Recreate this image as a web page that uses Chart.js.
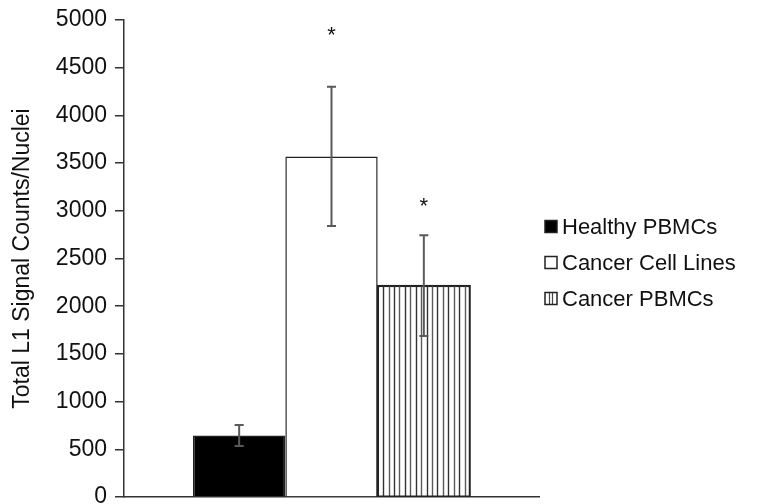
<!DOCTYPE html>
<html><head><meta charset="utf-8">
<script src="https://cdn.jsdelivr.net/npm/chart.js@4/dist/chart.umd.min.js"></script>
<style>html,body{margin:0;padding:0;background:#fff}#wrap{width:758px;height:504px;position:relative}</style>
</head><body><div id="wrap"><canvas id="c" width="758" height="504"></canvas></div>
<script>
const categories = [''];
const seriesNames = ['Healthy PBMCs', 'Cancer Cell Lines', 'Cancer PBMCs'];
const meanValues = [645, 3570, 2215];
const errorValues = [110, 730, 528];
const starValues = [null, 4870, 3080];
const yTickLabels = ['0','500','1000','1500','2000','2500','3000','3500','4000','4500','5000'];
const yTitle = 'Total L1 Signal Counts/Nuclei';

const FONT = "'Liberation Sans', Arial, sans-serif";
const fills = ['#000000', '#ffffff', '#ffffff'];
const striped = [false, false, true];

const overlay = {
  id: 'overlay',
  afterDatasetsDraw(chart) {
    const ctx = chart.ctx;
    const y = chart.scales.y;
    chart.data.datasets.forEach((ds, i) => {
      const bar = chart.getDatasetMeta(i).data[0];
      const left = bar.x - bar.width / 2, right = bar.x + bar.width / 2;
      ctx.save();
      if (striped[i]) {
        const n = 17, step = (right - left) / n;
        for (let k = 1; k < n; k++) {
          const sx = Math.round(left + k * step) + 0.5;
          ctx.strokeStyle = k % 2 ? '#333' : '#5a5a5a';
          ctx.lineWidth = 1.4;
          ctx.beginPath(); ctx.moveTo(sx, bar.y); ctx.lineTo(sx, bar.base); ctx.stroke();
        }
        ctx.strokeStyle = '#222'; ctx.lineWidth = 1.5;
        ctx.strokeRect(left, bar.y, right - left, bar.base - bar.y);
      }
      const v = ds.data[0], e = errorValues[i];
      const yt = y.getPixelForValue(v + e), yb = y.getPixelForValue(v - e);
      ctx.strokeStyle = '#5a5a5a'; ctx.lineWidth = 2;
      ctx.beginPath();
      ctx.moveTo(bar.x, yt); ctx.lineTo(bar.x, yb);
      ctx.moveTo(bar.x - 4.5, yt); ctx.lineTo(bar.x + 4.5, yt);
      ctx.moveTo(bar.x - 4.5, yb); ctx.lineTo(bar.x + 4.5, yb);
      ctx.stroke();
      if (starValues[i] != null) {
        ctx.fillStyle = '#111';
        ctx.font = '22px ' + FONT;
        ctx.textAlign = 'center'; ctx.textBaseline = 'middle';
        ctx.fillText('*', bar.x, y.getPixelForValue(starValues[i]) + 4);
      }
      ctx.restore();
    });
  },
  afterDraw(chart) {
    const ctx = chart.ctx;
    const x0 = chart.chartArea.right + 6;
    const yc = (chart.chartArea.top + chart.chartArea.bottom) / 2 + 4;
    ctx.save();
    chart.data.datasets.forEach((ds, i) => {
      const cy = yc + (i - 1) * 36;
      ctx.fillStyle = fills[i];
      ctx.fillRect(x0, cy - 6, 12, 12);
      if (striped[i]) {
        ctx.strokeStyle = '#444'; ctx.lineWidth = 1.2;
        ctx.beginPath();
        ctx.moveTo(x0 + 4.5, cy - 6); ctx.lineTo(x0 + 4.5, cy + 6);
        ctx.moveTo(x0 + 7.5, cy - 6); ctx.lineTo(x0 + 7.5, cy + 6);
        ctx.stroke();
      }
      ctx.strokeStyle = '#222'; ctx.lineWidth = 1.5;
      ctx.strokeRect(x0, cy - 6, 12, 12);
      ctx.fillStyle = '#111';
      ctx.font = '22px ' + FONT;
      ctx.textAlign = 'left'; ctx.textBaseline = 'middle';
      ctx.fillText(ds.label, x0 + 17, cy + 1);
    });
    ctx.restore();
  }
};

new Chart(document.getElementById('c'), {
  type: 'bar',
  data: {
    labels: categories,
    datasets: seriesNames.map((name, i) => ({
      label: name,
      data: [meanValues[i]],
      backgroundColor: fills[i],
      borderColor: '#222',
      borderWidth: 1.5,
      categoryPercentage: 0.6675,
      barPercentage: 1
    }))
  },
  options: {
    responsive: false,
    devicePixelRatio: 1,
    animation: false,
    layout: { autoPadding: false, padding: { left: 0, top: 20, right: 219, bottom: 7 } },
    plugins: { legend: { display: false }, tooltip: { enabled: false } },
    scales: {
      x: {
        grid: { display: false, drawTicks: false },
        ticks: { display: false },
        border: { display: true, color: '#333', width: 1.5 },
        afterFit(s) { s.height = 0; s.paddingLeft = 0; s.paddingRight = 0; s.paddingTop = 0; s.paddingBottom = 0; }
      },
      y: {
        min: 0, max: 5000,
        afterBuildTicks(s) { s.ticks = yTickLabels.map(t => ({ value: Number(t) })); },
        ticks: {
          callback: (v, idx) => yTickLabels[idx],
          font: { family: FONT, size: 23 }, color: '#111', padding: 8
        },
        grid: { display: true, drawOnChartArea: false, drawTicks: true, tickLength: 9, color: '#333', lineWidth: 1.5 },
        border: { display: true, color: '#333', width: 1.5 },
        title: { display: true, text: yTitle, font: { family: FONT, size: 23 }, color: '#111', padding: { top: 9, bottom: 0 } },
        afterFit(s) { s.width = 124; s.paddingTop = 0; s.paddingBottom = 0; s.paddingLeft = 0; s.paddingRight = 0; }
      }
    }
  },
  plugins: [overlay]
});
</script></body></html>
